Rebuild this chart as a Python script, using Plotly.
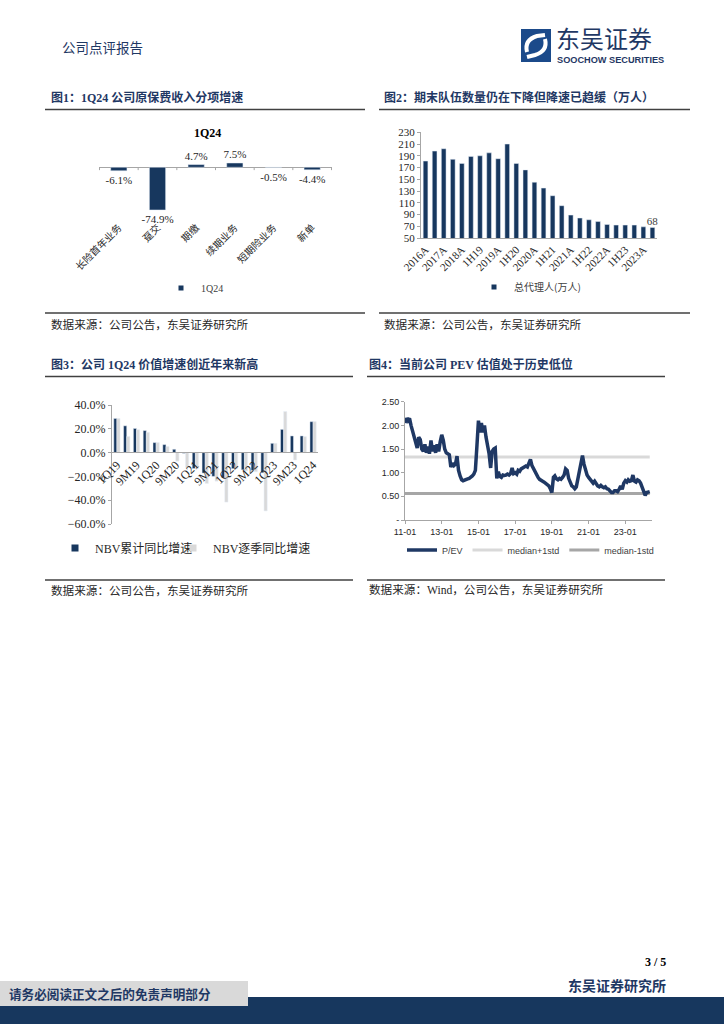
import plotly.graph_objects as go
import pandas as pd

W, H = 724, 1024


def fx(px):
    return px / W


def fy(py):
    return 1 - py / H


NAVY = '#1f3864'
BAR_NAVY = '#17375e'
LIGHT = '#d9d9d9'
MID = '#a6a6a6'
SERIF = 'Liberation Serif, Noto Sans CJK SC'
SANS = 'Liberation Sans, Noto Sans CJK SC'
CJK = 'Noto Sans CJK SC'

# ---------------- data ----------------
# Figure 1
c1_categories = ['长险首年业务', '趸交', '期缴', '续期业务', '短期险业务', '新单']
c1_values = [-6.1, -74.9, 4.7, 7.5, -0.5, -4.4]
c1_series = '1Q24'

# Figure 2
c2_categories = ['2016A', '1H17', '2017A', '1H18', '2018A', '1Q19', '1H19', '3Q19', '2019A',
                 '1Q20', '1H20', '3Q20', '2020A', '1Q21', '1H21', '3Q21', '2021A', '1Q22',
                 '1H22', '3Q22', '2022A', '1Q23', '1H23', '3Q23', '2023A', '1Q24']
c2_values = [181, 198, 202, 184, 177, 189, 190, 195, 185, 210, 177, 166, 145, 135, 122, 105,
             89, 84, 81, 78, 73, 72, 72, 72, 69, 68]
c2_ticklabels = ['2016A', '2017A', '2018A', '1H19', '2019A', '1H20', '2020A', '1H21', '2021A',
                 '1H22', '2022A', '1H23', '2023A']
c2_series = '总代理人(万人)'

# Figure 3
c3_categories = ['1Q19', '1H19', '9M19', '2019', '1Q20', '1H20', '9M20', '2020', '1Q21', '1H21',
                 '9M21', '2021', '1Q22', '1H22', '9M22', '2022', '1Q23', '1H23', '9M23', '2023',
                 '1Q24']
c3_cumulative = [28.7, 22.5, 20.3, 18.5, 8.4, 6.7, 2.8, -0.6, -13.4, -17.2, -20.0, -21.0, -13.5,
                 -14.5, -15.0, -17.0, 7.8, 19.5, 14.0, 14.0, 26.0]
c3_quarterly = [28.7, 13.5, 19.2, 17.0, 8.4, 5.1, -7.2, -12.5, -13.4, -25.9, -24.0, -41.6, -13.5,
                -15.5, -16.0, -49.0, 7.8, 34.5, -6.2, 13.4, 26.0]
c3_ticklabels = ['1Q19', '9M19', '1Q20', '9M20', '1Q21', '9M21', '1Q22', '9M22', '1Q23', '9M23',
                 '1Q24']
c3_series = ['NBV累计同比增速', 'NBV逐季同比增速']

# Figure 4 (monthly P/EV, from 2011-01)
c4_start = '2011-01-01'
c4_pev = [
    2.05, 2.15, 2.10, 2.15, 2.00, 1.88, 1.78, 1.60, 1.52, 1.75, 1.70, 1.50,  # 2011
    1.45, 1.60, 1.42, 1.55, 1.40, 1.68, 1.45, 1.58, 1.42, 1.60, 1.45, 1.65,  # 2012
    1.80, 1.68, 1.50, 1.42, 1.40, 1.38, 1.12, 1.20, 1.15, 1.18, 1.35, 1.05,  # 2013
    0.93, 0.85, 0.83, 0.85, 0.86, 0.87, 0.88, 0.90, 0.93, 0.97, 1.05, 1.55,  # 2014
    2.10, 1.85, 2.05, 1.85, 2.00, 1.75, 1.57, 1.40, 1.10, 1.45, 1.50, 1.52,  # 2015
    0.88, 1.02, 0.92, 0.90, 0.95, 0.94, 0.95, 0.97, 0.95, 0.98, 1.10, 0.98,  # 2016
    1.00, 0.97, 1.05, 1.03, 1.08, 1.10, 1.10, 1.14, 1.12, 1.20, 1.28, 1.15,  # 2017
    1.08, 1.02, 0.95, 0.90, 0.86, 0.83, 0.82, 0.80, 0.78, 0.75, 0.72, 0.66,  # 2018
    0.58, 0.90, 0.93, 0.87, 0.85, 0.88, 0.86, 0.90, 0.95, 1.08, 1.05, 0.88,  # 2019
    0.78, 0.72, 0.70, 0.66, 0.70, 0.85, 1.02, 1.20, 1.36, 1.18, 1.05, 0.95,  # 2020
    0.90, 0.85, 0.80, 0.78, 0.82, 0.75, 0.72, 0.70, 0.73, 0.70, 0.68, 0.70,  # 2021
    0.66, 0.65, 0.62, 0.58, 0.58, 0.62, 0.62, 0.60, 0.65, 0.72, 0.65, 0.78,  # 2022
    0.83, 0.80, 0.85, 0.82, 0.83, 0.95, 0.82, 0.80, 0.85, 0.83, 0.78, 0.70,  # 2023
    0.58, 0.52, 0.58, 0.60, 0.60,                                            # 2024
]
c4_median_plus_1std = 1.33
c4_median_minus_1std = 0.56
c4_series = ['P/EV', 'median+1std', 'median-1std']
c4_yticks = [0, 0.5, 1.0, 1.5, 2.0, 2.5]
c4_yticktext = ['-', '0.50', '1.00', '1.50', '2.00', '2.50']

c4_dates = pd.date_range(c4_start, periods=len(c4_pev), freq='MS')

# ---------------- figure ----------------
fig = go.Figure()


def legend_square(name, color, legend, axes, size=6):
    # legend-only entry with a small square swatch (like the source's legend keys)
    return go.Scatter(x=[None], y=[None], mode='markers', name=name, legend=legend,
                      xaxis=axes[0], yaxis=axes[1],
                      marker=dict(symbol='square', size=size, color=color), hoverinfo='skip')


# Figure 1 bars
fig.add_trace(go.Bar(
    x=c1_categories, y=c1_values, name=c1_series, marker_color=BAR_NAVY, width=0.42,
    texttemplate='%{y:.1f}%', textposition='outside', cliponaxis=False, constraintext='none',
    textfont=dict(family=SERIF, size=11, color='#262626'),
    xaxis='x', yaxis='y', showlegend=False,
))
fig.add_trace(legend_square(c1_series, BAR_NAVY, 'legend', ('x', 'y'), 5))

# Figure 2 bars
c2_text = ['' for _ in c2_values[:-1]] + [str(c2_values[-1])]
fig.add_trace(go.Bar(
    x=c2_categories, y=c2_values, name=c2_series, marker_color=BAR_NAVY, width=0.52,
    text=c2_text, textposition='outside', cliponaxis=False, constraintext='none',
    textfont=dict(family=SERIF, size=11, color='#404040'),
    xaxis='x2', yaxis='y2', showlegend=False,
))
fig.add_trace(legend_square(c2_series, BAR_NAVY, 'legend2', ('x2', 'y2'), 5))

# Figure 3 bars
fig.add_trace(go.Bar(
    x=c3_categories, y=c3_cumulative, name=c3_series[0], marker_color=BAR_NAVY,
    width=0.32, offset=-0.32, xaxis='x3', yaxis='y3', showlegend=False,
))
fig.add_trace(go.Bar(
    x=c3_categories, y=c3_quarterly, name=c3_series[1], marker_color=LIGHT,
    width=0.32, offset=0.0, xaxis='x3', yaxis='y3', showlegend=False,
))
fig.add_trace(legend_square(c3_series[0], BAR_NAVY, 'legend3', ('x3', 'y3'), 7))
fig.add_trace(legend_square(c3_series[1], LIGHT, 'legend5', ('x3', 'y3'), 7))

# Figure 4 lines (median lines first so the P/EV line is drawn on top)
fig.add_trace(go.Scatter(
    x=[c4_dates[0], c4_dates[-1]], y=[c4_median_plus_1std] * 2, name=c4_series[1], mode='lines',
    line=dict(color=LIGHT, width=3), xaxis='x4', yaxis='y4', legend='legend4', legendrank=2,
))
fig.add_trace(go.Scatter(
    x=[c4_dates[0], c4_dates[-1]], y=[c4_median_minus_1std] * 2, name=c4_series[2], mode='lines',
    line=dict(color=MID, width=3), xaxis='x4', yaxis='y4', legend='legend4', legendrank=3,
))
fig.add_trace(go.Scatter(
    x=c4_dates, y=c4_pev, name=c4_series[0], mode='lines',
    line=dict(color=NAVY, width=3.5), xaxis='x4', yaxis='y4', legend='legend4', legendrank=1,
))

# ---------------- axes ----------------
axis_line = '#a6a6a6'

fig.update_layout(
    xaxis=dict(domain=[fx(99), fx(332)], anchor='y', type='category', showline=False,
               ticks='', tickangle=-45, showgrid=False, automargin=False, ticklabelstandoff=6,
               tickfont=dict(family=CJK, size=10, color='#262626')),
    yaxis=dict(domain=[fy(213), fy(150)], anchor='x', range=[-80.2, 30.3], visible=True,
               showticklabels=False, showgrid=False, zeroline=True, zerolinecolor=axis_line,
               zerolinewidth=1, showline=False, ticks='', automargin=False),

    xaxis2=dict(domain=[fx(421), fx(657)], anchor='y2', type='category', showline=True,
                linecolor=axis_line, linewidth=1, ticks='', tickangle=-45, showgrid=False,
                tickvals=c2_ticklabels, ticktext=c2_ticklabels, automargin=False,
                tickfont=dict(family=SERIF, size=11, color='#262626')),
    yaxis2=dict(domain=[fy(238), fy(132.3)], anchor='x2', range=[50, 230], dtick=20, tick0=50,
                showline=True, linecolor=axis_line, linewidth=1, ticks='outside', ticklen=3,
                tickcolor=axis_line, showgrid=False, zeroline=False, automargin=False,
                tickfont=dict(family=SERIF, size=11, color='#262626')),

    xaxis3=dict(domain=[fx(112), fx(318)], anchor='free', position=fy(452.3), type='category',
                showline=True, linecolor=axis_line, linewidth=1, ticks='', tickangle=-45,
                showgrid=False, tickvals=c3_ticklabels, ticktext=c3_ticklabels, automargin=False,
                tickfont=dict(family=SERIF, size=12, color='#262626')),
    yaxis3=dict(domain=[fy(524), fy(405)], anchor='x3', range=[-60, 40], dtick=20,
                tickformat='.1f', ticksuffix='%', showline=True, linecolor=axis_line,
                linewidth=1, ticks='outside', ticklen=3, tickcolor=axis_line, showgrid=False,
                zeroline=False, automargin=False,
                tickfont=dict(family=SERIF, size=12, color='#262626')),

    xaxis4=dict(domain=[fx(405), fx(652)], anchor='y4', type='date',
                range=['2011-01-01', '2024-06-15'], tick0='2011-01-01', dtick='M24',
                tickformat='%y-%m', showline=True, linecolor=axis_line, linewidth=1,
                ticks='outside', ticklen=3, tickcolor=axis_line, showgrid=False,
                automargin=False, tickfont=dict(family=SANS, size=9, color='#262626')),
    yaxis4=dict(domain=[fy(520), fy(401.7)], anchor='x4', range=[0, 2.5],
                tickvals=c4_yticks, ticktext=c4_yticktext, showline=True, linecolor=axis_line,
                linewidth=1, ticks='outside', ticklen=3, tickcolor=axis_line, showgrid=False,
                zeroline=False, automargin=False,
                tickfont=dict(family=SANS, size=9, color='#262626')),
)

# ---------------- legends ----------------
common_leg = dict(xanchor='left', yanchor='middle', orientation='h', bgcolor='rgba(0,0,0,0)',
                  itemwidth=30, tracegroupgap=0)
fig.update_layout(
    legend=dict(x=fx(161), y=fy(288), font=dict(family=SERIF, size=10, color='#404040'),
                **common_leg),
    legend2=dict(x=fx(474), y=fy(287), font=dict(family=CJK, size=10, color='#404040'),
                 **common_leg),
    legend3=dict(x=fx(55), y=fy(548), font=dict(family=SERIF, size=12, color='#262626'),
                 **common_leg),
    legend5=dict(x=fx(173), y=fy(548), font=dict(family=SERIF, size=12, color='#262626'),
                 **common_leg),
    legend4=dict(x=fx(402), y=fy(550), font=dict(family=SANS, size=9, color='#404040'),
                 traceorder='normal', **common_leg),
)

# ---------------- page decorations ----------------
annotations = []


def ann(text, x, y, size, color='#000000', bold=False, family=CJK, xanchor='left'):
    annotations.append(dict(
        text=f'<b>{text}</b>' if bold else text, x=fx(x), y=fy(y), xref='paper', yref='paper',
        showarrow=False, xanchor=xanchor, yanchor='middle', borderpad=0,
        font=dict(size=size, color=color, family=family)))


shapes = []


def hline(x0, x1, y, color='#404040', width=1.5):
    shapes.append(dict(type='line', xref='paper', yref='paper', x0=fx(x0), x1=fx(x1),
                       y0=fy(y), y1=fy(y), line=dict(color=color, width=width)))


def rect(x0, y0, x1, y1, fill):
    shapes.append(dict(type='rect', xref='paper', yref='paper', x0=fx(x0), x1=fx(x1),
                       y0=fy(y1), y1=fy(y0), fillcolor=fill, line=dict(width=0), layer='below'))


# header
ann('公司点评报告', 61, 47, 13.5, color=NAVY)
rect(521, 29, 551, 62, '#1b4a8a')
shapes.append(dict(type='path', xref='paper', yref='paper',
                   path=(f'M {fx(527)},{fy(52)} Q {fx(524)},{fy(40)} {fx(537)},{fy(36)} '
                         f'L {fx(545)},{fy(35)}'),
                   line=dict(color='white', width=4)))
shapes.append(dict(type='path', xref='paper', yref='paper',
                   path=(f'M {fx(545)},{fy(39)} Q {fx(548)},{fy(51)} {fx(535)},{fy(55)} '
                         f'L {fx(527)},{fy(57)}'),
                   line=dict(color='white', width=4)))
ann('东吴证券', 555, 37, 24, color=NAVY, family=CJK)
ann('<b>SOOCHOW SECURITIES</b>', 556, 60, 9.2, color=NAVY, family=SANS)

# figure titles + rules
ann('图1：1Q24 公司原保费收入分项增速', 50, 97, 12, color=NAVY, bold=True, family=SERIF)
ann('图2：期末队伍数量仍在下降但降速已趋缓（万人）', 383, 97, 12, color=NAVY, bold=True, family=SERIF)
hline(45, 365, 109.5)
hline(379, 690, 109.5)
ann('<b>1Q24</b>', 207, 133, 12, color='#000000', family=SERIF, xanchor='center')

hline(45, 365, 313)
hline(379, 690, 313)
ann('数据来源：公司公告，东吴证券研究所', 50, 324, 11.6, color='#262626')
ann('数据来源：公司公告，东吴证券研究所', 383, 324, 11.6, color='#262626')

ann('图3：公司 1Q24 价值增速创近年来新高', 50, 364, 12, color=NAVY, bold=True, family=SERIF)
ann('图4：当前公司 PEV 估值处于历史低位', 368, 364, 12, color=NAVY, bold=True, family=SERIF)
hline(45, 353, 376.5)
hline(367, 665, 376.5)

hline(45, 353, 580)
hline(367, 665, 580)
ann('数据来源：公司公告，东吴证券研究所', 50, 590, 11.6, color='#262626')
ann('数据来源：Wind，公司公告，东吴证券研究所', 368, 590, 11.6, color='#262626', family=SERIF)

# figure 1 tick marks on zero line (category boundaries)
for i in range(len(c1_categories) + 1):
    shapes.append(dict(type='line', xref='x', yref='y', x0=i - 0.5, x1=i - 0.5, y0=0, y1=-5,
                       line=dict(color=axis_line, width=1)))

# footer
ann('<b>3 / 5</b>', 667, 962, 12, color='#000000', family=SERIF, xanchor='right')
ann('东吴证券研究所', 667, 985, 14, color=NAVY, bold=True, xanchor='right')
rect(0, 997, 724, 1024, '#17375e')
rect(0, 981, 248, 1006, '#d9d9d9')
ann('请务必阅读正文之后的免责声明部分', 8, 993, 12.6, color=NAVY, bold=True)

fig.update_layout(
    width=W, height=H, margin=dict(l=0, r=0, t=0, b=0, autoexpand=False),
    paper_bgcolor='white', plot_bgcolor='white',
    annotations=annotations, shapes=shapes, barmode='group',
    font=dict(family=CJK, color='#262626'),
)

fig.write_html(
    'out.html',
    config={'displayModeBar': False},
    post_script="document.body.style.margin='0';document.body.style.overflow='hidden';",
)
